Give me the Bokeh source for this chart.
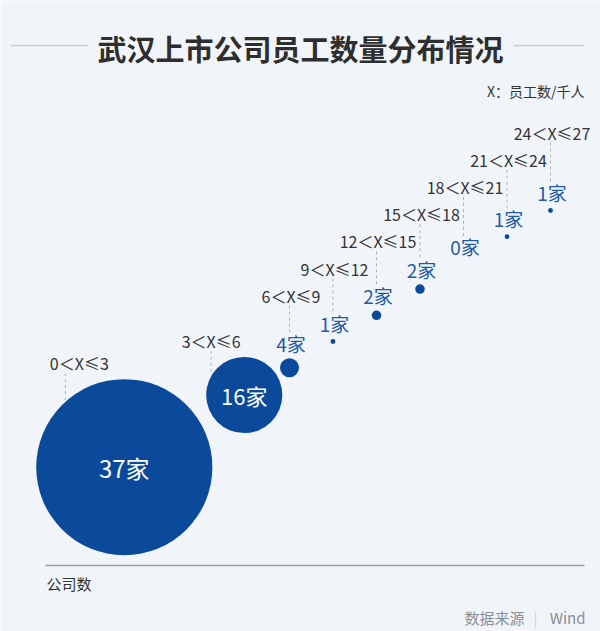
import numpy as np
from bokeh.plotting import figure
from bokeh.models import Range1d, ColumnDataSource
from bokeh.core.properties import value
from bokeh.embed import file_html
from bokeh.resources import INLINE

# ---------------- data ----------------
title_text = "武汉上市公司员工数量分布情况"
unit_note = "X：员工数/千人"
categories = ["0＜X≤3", "3＜X≤6", "6＜X≤9", "9＜X≤12", "12＜X≤15",
              "15＜X≤18", "18＜X≤21", "21＜X≤24", "24＜X≤27"]
counts = [37, 16, 4, 1, 2, 2, 0, 1, 1]
count_suffix = "家"
axis_label = "公司数"
source_label = "数据来源"
source_name = "Wind"

# ---------------- layout / style ----------------
FONT = "Noto Sans CJK SC"
BG = "#f1f5f9"
BUBBLE = "#0b4a9b"
BLUE_TXT = "#1e5aa8"
DARK = "#333333"
W, H = 600, 631
R_PER = 2.38             # px of radius per company
STEP = np.array([43.5, 26.2])   # diagonal step between categories (px)
TOP_ANCHOR = np.array([550.0, 210.0])  # px of the last category
BIG = 20                 # bubbles larger than this hold their label inside

n = len(counts)
radii = np.array(counts, dtype=float) * R_PER
unit = STEP / np.linalg.norm(STEP)
cx = np.zeros(n)
cy = np.zeros(n)
cx[-1], cy[-1] = TOP_ANCHOR
for i in range(n - 2, -1, -1):
    d = max(np.linalg.norm(STEP), 1.11 * (radii[i] + radii[i + 1]))
    cx[i] = cx[i + 1] - unit[0] * d
    cy[i] = cy[i + 1] + unit[1] * d

lab_x, lab_y, lead_x, lead_y0, lead_y1 = [], [], [], [], []
cnt_x, cnt_y, cnt_txt = [], [], []
in_x, in_y, in_txt, in_size = [], [], [], []
for i in range(n):
    r = radii[i]
    txt = f"{counts[i]}{count_suffix}"
    if r > BIG:
        f = 0.87 - 0.004 * (r - 38)
        dx = cx[i] - f * r
        lx = dx + 0.28 * (r - 38)
        ly = cy[i] - r - 16
        lab_x.append(lx); lab_y.append(ly)
        lead_x.append(dx); lead_y0.append(ly + 10)
        lead_y1.append(cy[i] - np.sqrt(r * r - (cx[i] - dx) ** 2) - 1)
        in_x.append(cx[i]); in_y.append(cy[i]); in_txt.append(txt)
        in_size.append(f"{20.5 + 0.04 * r:.0f}px")
    else:
        ly = 132 + 27.2 * (n - 1 - i)
        lab_x.append(cx[i] + 1.5); lab_y.append(ly)
        cyl = cy[i] - (16 + 0.85 * r)
        cnt_x.append(cx[i] + 1.5); cnt_y.append(cyl); cnt_txt.append(txt)
        lead_x.append(cx[i]); lead_y0.append(ly + 10); lead_y1.append(cyl - 11)

p = figure(width=W, height=H, output_backend="svg", toolbar_location=None,
           x_range=Range1d(0, W), y_range=Range1d(H, 0),
           x_axis_type=None, y_axis_type=None, min_border=0,
           background_fill_color=BG, border_fill_color=BG)
p.outline_line_color = None
p.grid.visible = False

# title + side rules
p.segment(x0=[10, 513], y0=[45, 45], x1=[88, 584], y1=[45, 45],
          line_color="#c9ced4", line_width=1.5)
p.text(x=[300], y=[47], text=[title_text], text_font=value(FONT),
       text_font_size="29px", text_font_style="bold", text_color="#2e2e2e",
       text_align="center", text_baseline="middle")
p.text(x=[584], y=[90], text=[unit_note], text_font=value(FONT),
       text_font_size="14px", text_color=DARK, text_align="right",
       text_baseline="middle")

# leader lines
p.segment(x0=lead_x, y0=lead_y0, x1=lead_x, y1=lead_y1,
          line_color="#aeb3b9", line_width=1, line_dash="3 3")

# bubbles
src = ColumnDataSource(dict(x=cx, y=cy, r=radii))
p.circle(x="x", y="y", radius="r", radius_units="screen", source=src,
         fill_color=BUBBLE, line_color=None)

# range labels
p.text(x=lab_x, y=lab_y, text=categories, text_font=value(FONT),
       text_font_size="16px", text_color=DARK, text_align="center",
       text_baseline="middle")
# count labels
p.text(x=cnt_x, y=cnt_y, text=cnt_txt, text_font=value(FONT),
       text_font_size="19px", text_color=BLUE_TXT, text_align="center",
       text_baseline="middle")
in_src = ColumnDataSource(dict(x=in_x, y=in_y, text=in_txt, size=in_size))
p.text(x="x", y="y", text="text", text_font_size="size", text_font=value(FONT),
       text_color="white", text_align="center", text_baseline="middle",
       source=in_src)

# bottom rule + labels
p.segment(x0=[45], y0=[565], x1=[584], y1=[565], line_color="#9a9fa5", line_width=1.5)
p.text(x=[46], y=[583], text=[axis_label], text_font=value(FONT),
       text_font_size="15px", text_color=DARK, text_align="left",
       text_baseline="middle")
p.text(x=[524], y=[617], text=[source_label], text_font=value(FONT),
       text_font_size="15px", text_color="#8a8f95", text_align="right",
       text_baseline="middle")
p.text(x=[535], y=[617], text=["|"], text_font=value(FONT),
       text_font_size="15px", text_color="#cfd3d8", text_align="center",
       text_baseline="middle")
p.text(x=[585], y=[617], text=[source_name], text_font=value(FONT),
       text_font_size="15px", text_color="#8a8f95", text_align="right",
       text_baseline="middle")

open("out.html", "w").write(file_html(p, INLINE))
